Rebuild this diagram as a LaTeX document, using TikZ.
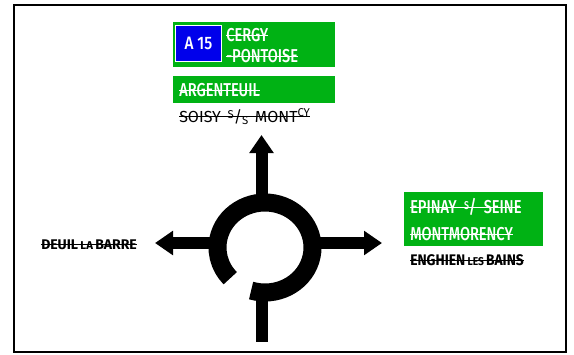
\documentclass[tikz,border=0pt]{standalone}
\usepackage{fontspec}
\setmainfont{Fira Sans}
\newfontfamily\signfont{Fira Sans Medium}
\usetikzlibrary{arrows.meta}
\definecolor{signgreen}{RGB}{0,178,20}
\definecolor{signblue}{RGB}{0,0,235}
\tikzset{
  panel/.style={fill=signgreen,inner sep=0pt,anchor=north west},
  signtext/.style={inner sep=0pt,font=\signfont\fontsize{14}{14}\selectfont,anchor=base west},
  road/.style={line width=9pt,-{Triangle[length=13.5pt,width=17.5pt]}}
}
\newsavebox{\strikebox}
\newcommand{\st}[2][.78]{\sbox{\strikebox}{\scalebox{#1}[1]{#2}}\rlap{\usebox{\strikebox}}\rule[.3em]{\wd\strikebox}{.6pt}}
\newcommand{\sm}[1]{{\fontsize{8.5}{8.5}\selectfont #1}}
\begin{document}
\begin{tikzpicture}[x=.75pt,y=-.75pt]
  \useasboundingbox (0,0) rectangle (574,354);
  \draw[line width=1.5pt] (13.5,5) rectangle (565.5,352);
  % panels
  \node[panel,minimum width=162*.75pt,minimum height=44.5*.75pt] (cergy) at (173,22) {};
  \node[draw=white,fill=signblue,line width=.6pt,minimum width=46.5*.75pt,minimum height=36*.75pt,inner sep=0pt,text=white,font=\signfont\fontsize{13.5}{13.5}\selectfont] (afifteen) at (198.5,43) {\scalebox{.85}[1]{A 15}};
  \node[signtext,text=white] (cergya) at (226,41) {\st{CERGY}};
  \node[signtext,text=white] (cergyb) at (226,62) {\st{-PONTOISE}};
  \node[panel,minimum width=162*.75pt,minimum height=27*.75pt] (argent) at (173,76) {};
  \node[signtext,text=white] (argenttxt) at (179,96) {\st{ARGENTEUIL}};
  \node[signtext,font=\fontsize{12}{12}\selectfont] (soisy) at (179,122) {\st[1]{SOISY\hspace{5pt}\raisebox{3pt}{\sm{S}}/\raisebox{-2pt}{\sm{S}}\hspace{5pt}MONT\raisebox{4pt}{\sm{CY}}}};
  \node[panel,minimum width=139*.75pt,minimum height=54*.75pt] (epinay) at (404,192) {};
  \node[signtext,text=white] (epinaytxt) at (410,213) {\st{EPINAY\hspace{7pt}\raisebox{3pt}{\sm{S}}/\hspace{7pt}SEINE}};
  \node[signtext,text=white] (montmo) at (410,240) {\st{MONTMORENCY}};
  \node[fill=white,minimum width=161*.75pt,minimum height=27*.75pt,inner sep=0pt,anchor=north west] (enghienbg) at (404,246) {};
  \node[signtext,font=\bfseries\fontsize{11.5}{11.5}\selectfont] (enghien) at (410,265) {\st[.9]{ENGHIEN\,\sm{LES}\,BAINS}};
  \node[signtext,font=\bfseries\fontsize{10.5}{10.5}\selectfont] (deuil) at (41,249) {\st[1]{DEUIL\,\sm{LA}\,BARRE}};
  % roundabout
  \coordinate (centre) at (265,247.5);
  \coordinate (north) at (261.5,135);
  \coordinate (east) at (382,243);
  \coordinate (west) at (155,243);
  \coordinate (south) at (261.5,342);
  \draw[road] (261.5,198) -- (north);
  \draw[road] (315,243) -- (east);
  \draw[road] (215,243) -- (west);
  \draw[line width=9pt] (261.5,295) -- (south);
  \draw[line width=13.5pt] (centre) ++(107:47.5 and 45) arc[start angle=107,end angle=-223,x radius=47.5,y radius=45];
\end{tikzpicture}
\end{document}
